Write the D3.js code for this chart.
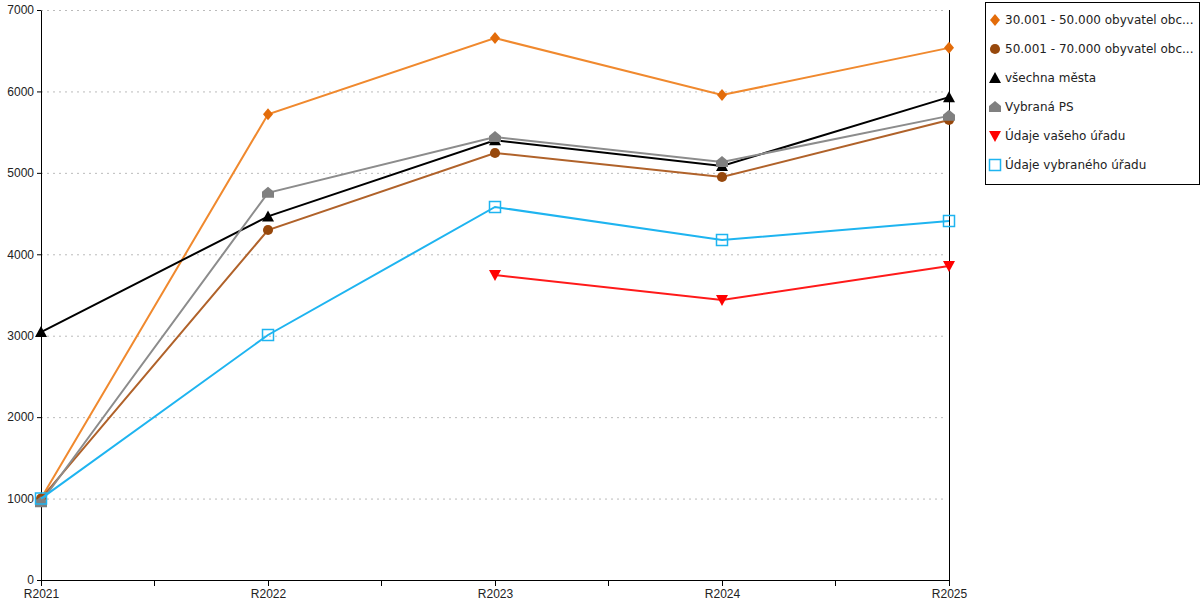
<!DOCTYPE html>
<html>
<head>
<meta charset="utf-8">
<script src="https://cdn.jsdelivr.net/npm/d3@7"></script>
<style>
  body { margin: 0; background: #fff; }
  svg { font-family: "DejaVu Sans", sans-serif; }
  .axis text { font-size: 12px; fill: #222; }
  .axis path, .axis line { stroke: #000; }
  .grid line { stroke: #bbb; stroke-dasharray: 2,4; }
</style>
</head>
<body>
<svg class="chart" width="1200" height="600"></svg>
<script>
var years = ["R2021", "R2022", "R2023", "R2024", "R2025"];
var yTicks = [0, 1000, 2000, 3000, 4000, 5000, 6000, 7000];

var names = [
  "30.001 - 50.000 obyvatel obc...",
  "50.001 - 70.000 obyvatel obc...",
  "všechna města",
  "Vybraná PS",
  "Údaje vašeho úřadu",
  "Údaje vybraného úřadu"
];
var town30 = [1000, 5720, 6655, 5955, 6535];
var town50 = [1000, 4298, 5244, 4949, 5650];
var allTowns = [3045, 4465, 5400, 5084, 5930];
var selectedPS = [955, 4755, 5440, 5133, 5700];
var yourOffice = [null, null, 3745, 3438, 3856];
var selectedOffice = [1000, 3009, 4581, 4175, 4409];

var lineColors = ["#f0892e", "#b0622a", "#000000", "#8c8c8c", "#ff1a1a", "#1eb4f0"];
var markColors = ["#e36c0a", "#97480c", "#000000", "#808080", "#ff0000", "#1eb4f0"];
var shapes = ["diamond", "circle", "triangle", "house", "down", "square"];

var series = [town30, town50, allTowns, selectedPS, yourOffice, selectedOffice].map(function(v, i) {
  return { name: names[i], values: v, line: lineColors[i], mark: markColors[i], shape: shapes[i] };
});

var svg = d3.select(".chart");
var pLeft = 41, pRight = 949, pTop = 10, pBottom = 580;

var x = d3.scalePoint().domain(years).range([pLeft, pRight]);
var y = d3.scaleLinear().domain([0, 7000]).range([pBottom, pTop]);

// grid
svg.append("g").attr("class", "grid")
  .selectAll("line").data(yTicks.slice(1)).enter().append("line")
  .attr("x1", pLeft).attr("x2", pRight - 3)
  .attr("y1", function(d) { return y(d) + 0.5; })
  .attr("y2", function(d) { return y(d) + 0.5; });

// axes
svg.append("g").attr("class", "axis")
  .attr("transform", "translate(" + pLeft + ",0)")
  .call(d3.axisLeft(y).tickValues(yTicks).tickSize(4).tickSizeOuter(0).tickPadding(3).tickFormat(d3.format("d")));

svg.append("g").attr("class", "axis")
  .attr("transform", "translate(0," + pBottom + ")")
  .call(d3.axisBottom(x).tickSize(6).tickSizeOuter(0).tickPadding(3));

// minor ticks between categories
var step = x.step();
svg.append("g")
  .selectAll("line").data(years.slice(1)).enter().append("line")
  .attr("x1", function(d) { return x(d) - step / 2; })
  .attr("x2", function(d) { return x(d) - step / 2; })
  .attr("y1", pBottom).attr("y2", pBottom + 6)
  .attr("stroke", "#000");

// right border line
svg.append("line")
  .attr("x1", pRight + 0.5).attr("x2", pRight + 0.5)
  .attr("y1", pTop).attr("y2", pBottom + 6)
  .attr("stroke", "#000");

function shapePath(s) {
  if (s == "diamond") return "M0,-6L5,0L0,6L-5,0Z";
  if (s == "circle") return d3.symbol(d3.symbolCircle, 80)();
  if (s == "triangle") return "M0,-6L6,5L-6,5Z";
  if (s == "down") return "M0,6L6,-5L-6,-5Z";
  if (s == "house") return "M0,-6L6,-1L6,5L-6,5L-6,-1Z";
  return "M-5.5,-5.5H5.5V5.5H-5.5Z";
}

var line = d3.line()
  .defined(function(d) { return d != null; })
  .x(function(d, i) { return x(years[i]); })
  .y(function(d) { return y(d); });

var g = svg.selectAll(".series").data(series).enter().append("g").attr("class", "series");

g.append("path")
  .attr("fill", "none")
  .attr("stroke", function(d) { return d.line; })
  .attr("stroke-width", 2)
  .attr("d", function(d) { return line(d.values); });

g.each(function(s) {
  d3.select(this).selectAll("path.mark")
    .data(s.values.map(function(v, i) { return { v: v, i: i }; }).filter(function(d) { return d.v != null; }))
    .enter().append("path")
    .attr("class", "mark")
    .attr("transform", function(d) { return "translate(" + x(years[d.i]) + "," + y(d.v) + ")"; })
    .attr("d", shapePath(s.shape))
    .attr("fill", s.shape == "square" ? "none" : s.mark)
    .attr("stroke", s.shape == "square" ? s.mark : "none")
    .attr("stroke-width", 1.5);
});

// legend
var legend = svg.append("g").attr("transform", "translate(985,2)");
legend.append("rect")
  .attr("x", 0.5).attr("y", 0.5).attr("width", 214).attr("height", 182)
  .attr("fill", "#fff").attr("stroke", "#000");

var item = legend.selectAll(".item").data(series).enter().append("g")
  .attr("transform", function(d, i) { return "translate(0," + (18 + i * 29) + ")"; });

item.append("path")
  .attr("transform", "translate(10,0)")
  .attr("d", function(d) { return shapePath(d.shape); })
  .attr("fill", function(d) { return d.shape == "square" ? "none" : d.mark; })
  .attr("stroke", function(d) { return d.shape == "square" ? d.mark : "none"; })
  .attr("stroke-width", 1.5);

item.append("text")
  .attr("x", 20).attr("dy", "0.35em")
  .style("font-size", "12px").attr("fill", "#222")
  .text(function(d) { return d.name; });
</script>
</body>
</html>
